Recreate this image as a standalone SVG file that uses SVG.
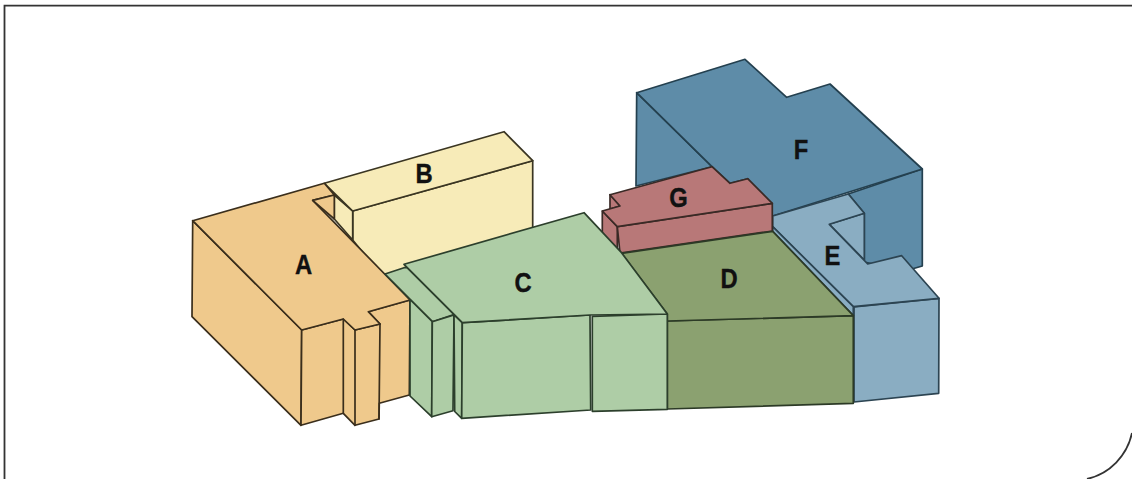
<svg xmlns="http://www.w3.org/2000/svg" width="1132" height="479" viewBox="0 0 1132 479">
<style>
.s{stroke-width:1.7;stroke-linejoin:round;stroke-linecap:round}
#F .s{fill:#5e8ca8;stroke:#24404f}
#E .s{fill:#8aadc2;stroke:#2c4452}
#G .s{fill:#b87878;stroke:#3a2a26}
#D .s{fill:#8ba170;stroke:#2c3a26}
#B .s{fill:#f7ebb8;stroke:#3a3522}
#A .s{fill:#efc98c;stroke:#3a2e1c}
#C .s{fill:#aecda6;stroke:#2c3f2c}
text{font-family:"Liberation Sans",Arial,sans-serif;font-weight:700;font-size:28px;fill:#111;stroke:#111;stroke-width:.4;text-anchor:middle}
</style>
<rect width="1132" height="479" fill="#fff"/>
<path id="frame" d="M4.500 479V5.700H1132M1132 433A60 60 0 0 1 1087 479" fill="none" stroke="#333" stroke-width="1.800"/>
<g id="F">
<polygon class="s" points="636.700,92.700 712,166.700 636,186"/>
<polygon class="s" points="848.300,194 922.300,169 922.300,266 905,271 864.300,262 864.300,213.300"/>
<polygon class="s" points="636.700,92.700 745,59.300 786.700,97.300 830,84 922.300,169 772.700,216 747.700,178.700 730,183.300 712,166.700"/>
<text transform="translate(801 159) scale(.85 1)">F</text>
</g>
<g id="E">
<polygon class="s" points="854,307 939,298.300 938.700,393.300 854,402"/>
<polygon class="s" points="829.300,224.300 864.300,213.300 864.300,260"/>
<polygon class="s" points="772.700,216 848.300,194 864.300,213.300 829.300,224.300 867.700,264 901.700,255.700 939,298.300 853.300,306.700 772.700,226.700"/>
<polygon class="s" points="772.700,226.700 853.300,306.700 853.300,315.700 772.700,231.300"/>
<text transform="translate(832.500 265) scale(.85 1)">E</text>
</g>
<g id="G">
<polygon class="s" points="602.300,211 617.300,226.700 617.300,252.700 602.300,237.300"/>
<polygon class="s" points="617.300,226.700 772.300,203.300 772.300,231 620,253"/>
<polygon class="s" points="610,194.700 620,206 610,209"/>
<polygon class="s" points="610,194.700 712,166.700 730,183.300 747.700,178.700 772.300,203.300 617.300,226.700 602.300,211 620,206"/>
<text transform="translate(678.500 207) scale(.85 1)">G</text>
</g>
<g id="D">
<polygon class="s" points="667.300,321 853.300,315.700 853.300,403.300 667.300,409"/>
<polygon class="s" points="621.500,253.300 772.700,231.300 853.300,315.700 667.300,321 667.300,314"/>
<text transform="translate(729 288.300) scale(.85 1)">D</text>
</g>
<g id="B">
<polygon class="s" points="352.700,211 532.700,160.700 532.700,240 385,280 352.700,240"/>
<polygon class="s" points="334.300,195 352.700,211 352.700,240 334.300,219"/>
<polygon class="s" points="324.300,183.300 504,131.700 532.700,160.700 352.700,211"/>
<text transform="translate(424.200 183.300) scale(.85 1)">B</text>
</g>
<g id="A">
<polygon class="s" points="192.700,220.700 301.700,330 301,425.300 192,316.700"/>
<polygon class="s" points="301.700,330 343.300,319 355,330 380,324 368.300,311.700 410,300 409.300,395 379.300,403.300 379,419 355,425.300 343.300,413.300 301,425.300"/>
<polygon class="s" points="192.700,220.700 324.300,183.300 334.300,195 312.700,200.300 410,300 368.300,311.700 380,324 355,330 343.300,319 301.700,330"/>
<polygon class="s" points="312.700,200.300 334.300,195 334.300,219"/>
<path class="s" fill="none" d="M343.300 319V413.300M355 330V425.300M380 324L379 419"/>
<text transform="translate(303.700 274) scale(.85 1)">A</text>
</g>
<g id="C">
<polygon class="s" points="385,274 404,267.700 407,267.300 454,314.500 432.300,321.700"/>
<polygon class="s" points="410,299.500 432.300,321.700 431.700,416.700 410,396"/>
<polygon class="s" points="432.300,321.700 454,315 453,410.700 431.700,416.700"/>
<polygon class="s" points="454,315 462.300,322.700 461.700,418.300 454.700,411.500"/>
<polygon class="s" points="462.300,322.700 590,315 590.700,410 461.700,418.300"/>
<polygon class="s" points="592.300,316.300 667.300,314 667.300,409.300 592.300,411.300"/>
<polygon class="s" points="404,264.300 584,212.700 621.500,252.700 667.300,314 590,315 462.300,322.700"/>
<text transform="translate(523 291.500) scale(.85 1)">C</text>
</g>
</svg>
